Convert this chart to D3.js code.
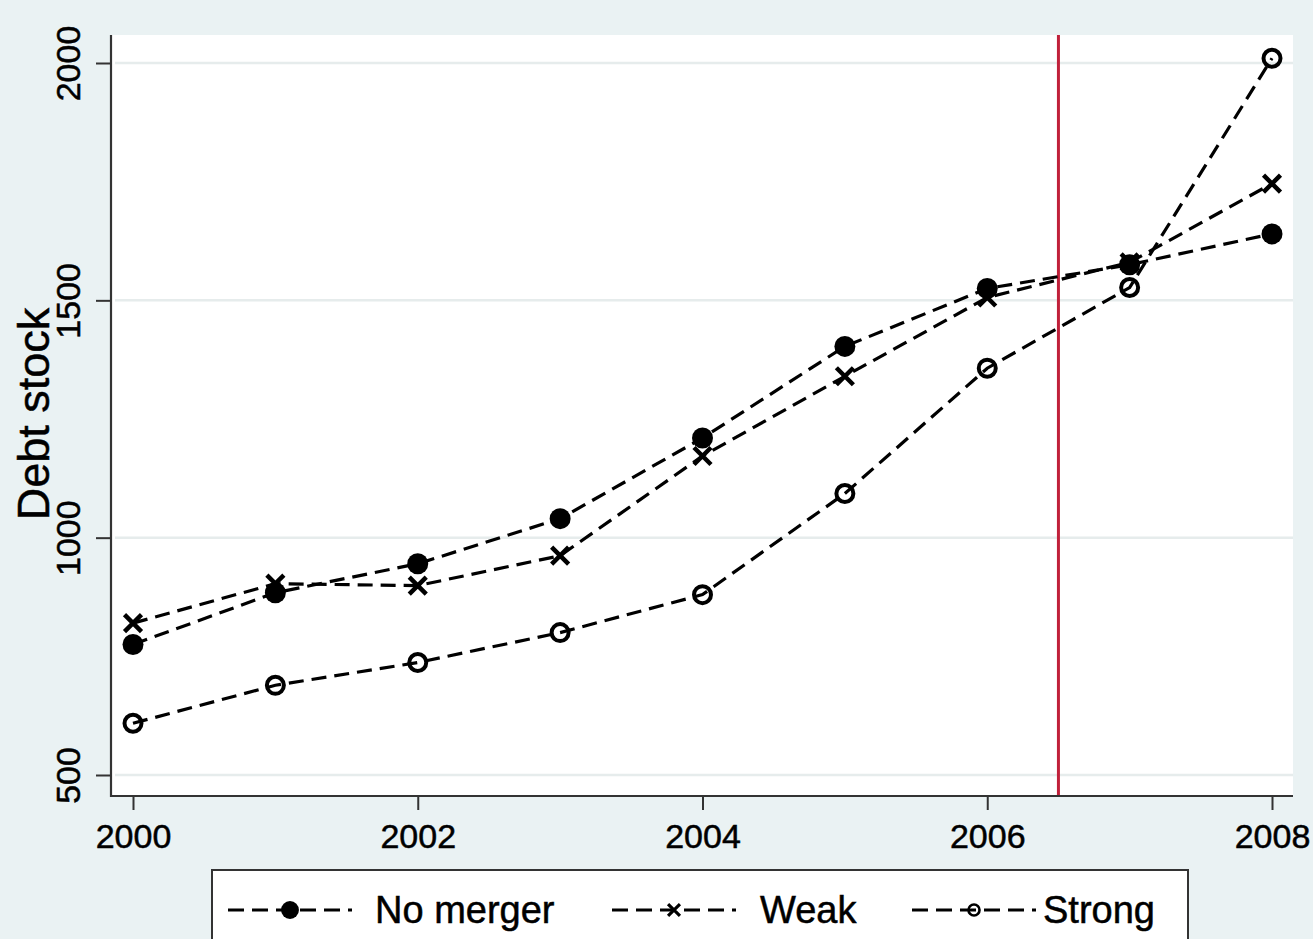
<!DOCTYPE html>
<html>
<head>
<meta charset="utf-8">
<script src="https://cdn.jsdelivr.net/npm/d3@7"></script>
<style>
  html, body { margin: 0; padding: 0; background: #eaf2f3; }
  svg { display: block; }
  text { font-family: "Liberation Sans", Arial, Helvetica, sans-serif; fill: #000; stroke: #000; stroke-width: 0.5; }
</style>
</head>
<body>
<svg id="chart" width="1313" height="939"></svg>
<script>
// ---------- data ----------
const years = [2000, 2001, 2002, 2003, 2004, 2005, 2006, 2007, 2008];
const noMerger = [775, 884, 945, 1040, 1210, 1403, 1525, 1575, 1640];
const weak     = [820, 903, 899, 962, 1172, 1340, 1506, 1580, 1746];
const strong   = [609, 689, 737, 800, 880, 1093, 1357, 1527, 2010];
const seriesNames = ["No merger", "Weak", "Strong"];
const seriesSymbols = ["filled", "cross", "hollow"];
const xTicks = [2000, 2002, 2004, 2006, 2008];
const yTicks = [500, 1000, 1500, 2000];
const cutoffYear = 2006.5;
const yTitle = "Debt stock";

// ---------- layout ----------
const svg = d3.select("#chart");
const W = 1313, H = 939;
const plot = { left: 111, right: 1293, top: 35, bottom: 796 };

svg.append("rect").attr("width", W).attr("height", H).attr("fill", "#eaf2f3");

const x = d3.scaleLinear().domain([2000, 2008]).range([133, 1272]);
const y = d3.scaleLinear().domain([500, 2000]).range([775, 63]);

// plot region
svg.append("rect")
  .attr("x", plot.left).attr("y", plot.top)
  .attr("width", plot.right - plot.left).attr("height", plot.bottom - plot.top)
  .attr("fill", "#ffffff");

// gridlines
svg.append("g").selectAll("line").data(yTicks).join("line")
  .attr("x1", plot.left + 4).attr("x2", plot.right)
  .attr("y1", d => y(d)).attr("y2", d => y(d))
  .attr("stroke", "#e6ecec").attr("stroke-width", 2.5);

// red vertical line
svg.append("line")
  .attr("x1", x(cutoffYear)).attr("x2", x(cutoffYear))
  .attr("y1", plot.top).attr("y2", plot.bottom)
  .attr("stroke", "#c0203a").attr("stroke-width", 3);

// Y axis
const yAxis = d3.axisLeft(y).tickValues(yTicks).tickSize(15).tickPadding(13).tickFormat(d3.format("d"));
const gy = svg.append("g").attr("transform", `translate(${plot.left},0)`).call(yAxis);
gy.select(".domain").remove();
gy.selectAll(".tick line").attr("stroke", "#333").attr("stroke-width", 2);
gy.selectAll(".tick text")
  .attr("font-size", 34)
  .attr("text-anchor", "middle")
  .attr("x", 0).attr("dy", 0)
  .attr("transform", "translate(-31,0) rotate(-90)")
  .attr("y", 0);
svg.append("line")
  .attr("x1", plot.left).attr("x2", plot.left)
  .attr("y1", plot.top).attr("y2", plot.bottom + 1)
  .attr("stroke", "#333").attr("stroke-width", 2.2);

// X axis
const xAxis = d3.axisBottom(x).tickValues(xTicks).tickSize(14).tickPadding(14).tickFormat(d3.format("d"));
const gx = svg.append("g").attr("transform", `translate(0,${plot.bottom})`).call(xAxis);
gx.select(".domain").remove();
gx.selectAll(".tick line").attr("stroke", "#333").attr("stroke-width", 2);
gx.selectAll(".tick text").attr("font-size", 34).attr("dy", "0.71em");
svg.append("line")
  .attr("x1", plot.left - 1).attr("x2", plot.right)
  .attr("y1", plot.bottom).attr("y2", plot.bottom)
  .attr("stroke", "#333").attr("stroke-width", 2.2);

// Y title
svg.append("text")
  .attr("transform", `translate(49,414) rotate(-90)`)
  .attr("text-anchor", "middle")
  .attr("font-size", 45)
  .text(yTitle);

// ---------- series ----------
const allSeries = [noMerger, weak, strong];
const line = d3.line().x((d, i) => x(years[i])).y(d => y(d));

function drawMarker(g, type, cx, cy, scale) {
  if (type === "filled") {
    g.append("circle").attr("cx", cx).attr("cy", cy).attr("r", 10.5 * scale).attr("fill", "#000");
  } else if (type === "hollow") {
    g.append("circle").attr("cx", cx).attr("cy", cy).attr("r", 8.5 * scale)
      .attr("fill", "none").attr("stroke", "#000").attr("stroke-width", 4 * scale);
  } else {
    const s = 8.5 * scale;
    g.append("path")
      .attr("d", `M${cx - s},${cy - s}L${cx + s},${cy + s}M${cx - s},${cy + s}L${cx + s},${cy - s}`)
      .attr("stroke", "#000").attr("stroke-width", 4.5 * scale).attr("fill", "none");
  }
}

allSeries.forEach((vals, si) => {
  svg.append("path")
    .attr("d", line(vals))
    .attr("fill", "none").attr("stroke", "#000")
    .attr("stroke-width", 3.2).attr("stroke-dasharray", "15,8");
});
allSeries.forEach((vals, si) => {
  const g = svg.append("g");
  vals.forEach((v, i) => drawMarker(g, seriesSymbols[si], x(years[i]), y(v), 1));
});

// ---------- legend ----------
const legend = svg.append("g");
legend.append("rect")
  .attr("x", 212).attr("y", 870).attr("width", 976).attr("height", 90)
  .attr("fill", "#fff").attr("stroke", "#333").attr("stroke-width", 2);

const legendItems = [
  { keyX: 228, textX: 375 },
  { keyX: 612, textX: 760 },
  { keyX: 912, textX: 1043 }
];
const legY = 910;
legendItems.forEach((it, i) => {
  legend.append("line")
    .attr("x1", it.keyX).attr("x2", it.keyX + 124)
    .attr("y1", legY).attr("y2", legY)
    .attr("stroke", "#000").attr("stroke-width", 3).attr("stroke-dasharray", "16,8");
  const sc = seriesSymbols[i] === "filled" ? 0.85 : (seriesSymbols[i] === "hollow" ? 0.65 : 0.7);
  drawMarker(legend, seriesSymbols[i], it.keyX + 62, legY, sc);
  legend.append("text")
    .attr("x", it.textX).attr("y", legY + 13)
    .attr("font-size", 38)
    .text(seriesNames[i]);
});
</script>
</body>
</html>
